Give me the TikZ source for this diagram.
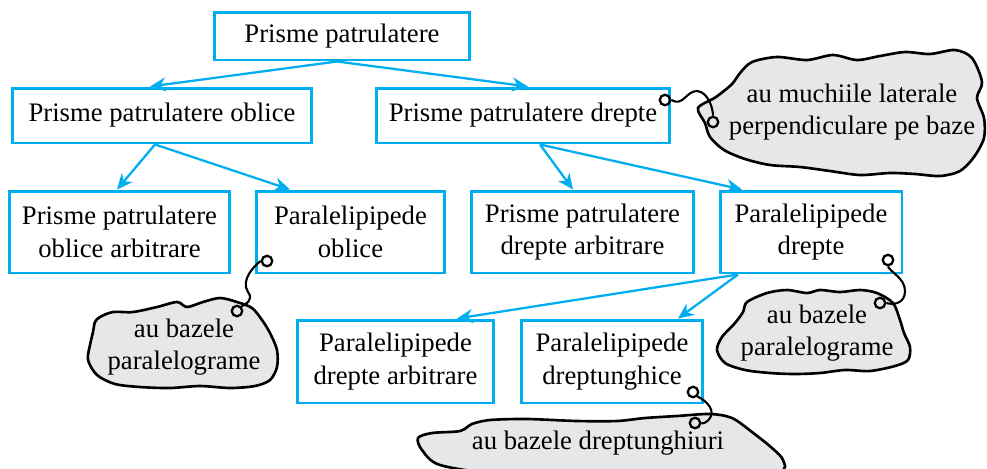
\documentclass[tikz,border=0pt]{standalone}
\usepackage{fontspec}
\setmainfont{Liberation Serif}
\usetikzlibrary{arrows.meta}
\definecolor{boxblue}{RGB}{0,174,239}
\definecolor{cloudgray}{RGB}{230,231,232}
\begin{document}
\begin{tikzpicture}[
    x=0.02cm, y=-0.02cm,
    txt/.style={font=\fontsize{15.2}{18.5}\selectfont, align=center},
    box/.style={txt, draw=boxblue, line width=1.7pt, inner sep=2pt},
    arr/.style={-{Stealth[length=9pt,width=8pt]}, line width=1.3pt, draw=boxblue},
    blob/.style={draw=black, line width=1.5pt, fill=cloudgray},
    hook/.style={circle, draw, line width=1.3pt, minimum size=0.21cm, inner sep=0pt},
    curl/.style={line width=1.2pt}
]
\useasboundingbox (0,0) rectangle (987,468);

% boxes
\node[box, minimum width=5.12cm, minimum height=0.96cm] (P)   at (342,36)    {Prisme patrulatere};
\node[box, minimum width=6.00cm, minimum height=1.10cm] (PO)  at (162,115.5) {Prisme patrulatere oblice};
\node[box, minimum width=5.88cm, minimum height=1.10cm] (PD)  at (523,115.5) {Prisme patrulatere drepte};
\node[box, minimum width=4.42cm, minimum height=1.64cm] (POA) at (119.5,232) {Prisme patrulatere\\oblice arbitrare};
\node[box, minimum width=3.78cm, minimum height=1.64cm] (LO)  at (350.5,232) {Paralelipipede\\oblice};
\node[box, minimum width=4.46cm, minimum height=1.64cm] (PDA) at (582.5,232) {Prisme patrulatere\\drepte arbitrare};
\node[box, minimum width=3.64cm, minimum height=1.64cm] (LD)  at (811,232)   {Paralelipipede\\drepte};
\node[box, minimum width=3.94cm, minimum height=1.66cm] (LDA) at (395.5,361.5) {Paralelipipede\\drepte arbitrare};
\node[box, minimum width=3.64cm, minimum height=1.66cm] (LDR) at (612,361.5) {Paralelipipede\\dreptunghice};

% arrows
\draw[arr] ([xshift=-0.1cm]P.south)   -- ([xshift=-0.24cm]PO.north);
\draw[arr] ([xshift=-0.1cm]P.south)   -- ([xshift=0.1cm]PD.north);
\draw[arr] ([xshift=-0.14cm]PO.south) -- ([xshift=-0.05cm]POA.north);
\draw[arr] ([xshift=-0.14cm]PO.south) -- ([xshift=-1.21cm]LO.north);
\draw[arr] ([xshift=0.34cm]PD.south)  -- ([xshift=-0.19cm]PDA.north);
\draw[arr] ([xshift=0.34cm]PD.south)  -- ([xshift=-1.38cm]LD.north);
\draw[arr] ([xshift=-1.46cm]LD.south) -- ([xshift=1.23cm]LDA.north);
\draw[arr] ([xshift=-1.46cm]LD.south) -- ([xshift=1.32cm]LDR.north);

% clouds
\draw[blob] plot[smooth cycle] coordinates {(740,73) (752,62) (777,57) (807,60) (833,55)
  (857,60) (880,56) (905,52) (930,54) (955,50) (972,58) (982,82) (977,98) (984,118)
  (984,138) (974,157) (960,171) (940,176) (915,174) (890,173) (860,175) (830,171)
  (800,167) (770,165) (745,159) (724,150) (710,137) (705,123) (698,108) (716,97) (732,84)};
\draw[blob] plot[smooth cycle] coordinates {(100,317) (113,312) (133,312) (157,307)
  (177,302) (187,307) (203,302) (220,298) (237,302) (252,308) (262,320) (270,333)
  (277,350) (277,367) (270,380) (255,386) (230,388) (200,386) (170,388) (140,387)
  (115,384) (97,375) (88,360) (90,345) (93,332) (95,322)};
\draw[blob] plot[smooth cycle] coordinates {(747,302) (767,293) (787,290) (807,293)
  (820,290) (840,292) (860,290) (877,293) (893,303) (900,320) (904,333) (910,347)
  (908,360) (895,366) (870,371) (845,370) (820,373) (795,374) (770,373) (745,370)
  (725,363) (717,350) (722,337) (735,323) (743,312)};
\draw[blob] plot[smooth cycle] coordinates {(418,438) (432,433) (460,431) (472,424)
  (490,420) (527,419) (577,421) (617,421) (645,418) (677,416) (710,414) (732,418)
  (752,432) (772,448) (783,460) (778,472) (700,477) (600,477) (500,474) (440,465)
  (422,450)};

\node[txt] (N1) at (852,112) {au muchiile laterale\\perpendiculare pe baze};
\node[txt] (N2) at (184,347) {au bazele\\paralelograme};
\node[txt] (N3) at (817,333) {au bazele\\paralelograme};
\node[txt] (N4) at (598,443) {au bazele dreptunghiuri};

% hooks
\node[hook] (h1) at (665,100) {};
\node[hook] (h2) at (713,122) {};
\node[hook] (h3) at (267,261) {};
\node[hook] (h4) at (237,311) {};
\node[hook] (h5) at (888,260) {};
\node[hook] (h6) at (880,303) {};
\node[hook] (h7) at (693,392) {};
\node[hook] (h8) at (695,423) {};

\draw[curl] (h1.east) .. controls (683,107) and (686,91) .. (697,91)
  .. controls (708,92) and (713,108) .. (h2.north);
\draw[curl] (h3.west) .. controls (255,265) and (240,280) .. (248,292)
  .. controls (254,300) and (246,304) .. (h4.north east);
\draw[curl] (h5.south) .. controls (890,272) and (905,278) .. (905,291)
  .. controls (905,304) and (893,305) .. (h6.east);
\draw[curl] (h7.south east) .. controls (705,400) and (714,408) .. (711,416)
  .. controls (708,423) and (702,424) .. (h8.east);

\end{tikzpicture}
\end{document}
